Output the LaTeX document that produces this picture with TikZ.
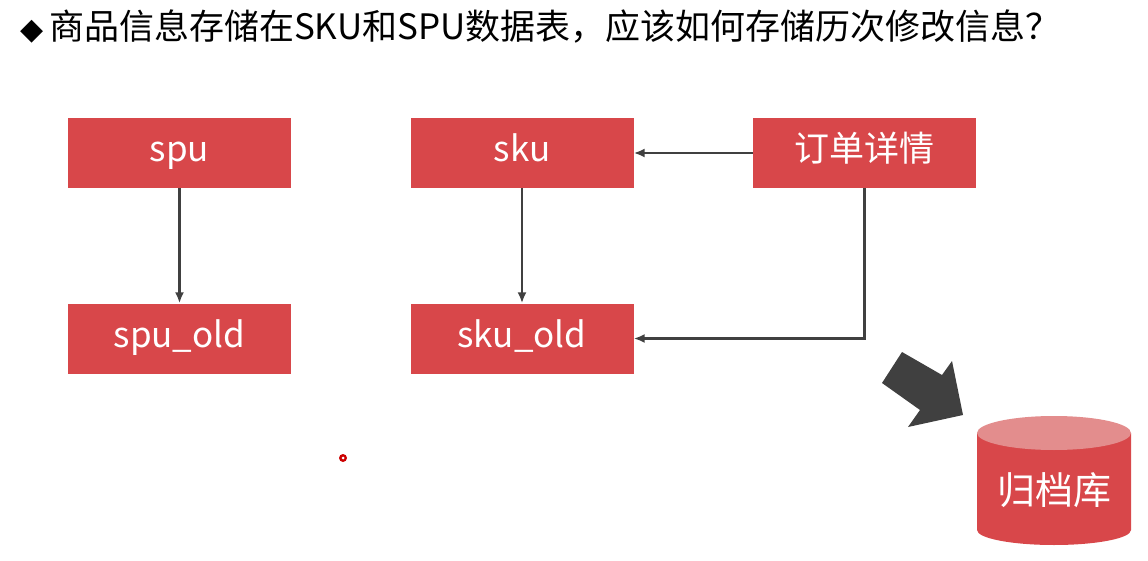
\documentclass[tikz,border=0pt]{standalone}
\usepackage{fontspec}
\setmainfont{Noto Sans CJK SC}
\newfontfamily\dejavu{DejaVu Sans}
\definecolor{boxred}{HTML}{D8474A}
\definecolor{topred}{HTML}{E38D8D}
\definecolor{line}{HTML}{404040}
\begin{document}
\begin{tikzpicture}[x=1pt,y=-1pt,
  box/.style={fill=boxred,text=white,minimum width=223pt,minimum height=70pt,inner sep=0pt,text height=25pt,text depth=7pt,font=\fontsize{35}{35}\selectfont},
  conn/.style={draw=line,line width=2.2pt,-{Latex[length=11pt,width=9pt]}}]
\usetikzlibrary{arrows.meta}
\useasboundingbox (0,0) rectangle (1148,561);
\node[anchor=west,inner sep=0pt,font=\fontsize{35}{35}\selectfont] (title) at (20,27) {{\dejavu\fontsize{30}{30}\selectfont ◆}\,商品信息存储在SKU和SPU数据表，应该如何存储历次修改信息？};
\node[box] (spu) at (179.5,153) {spu};
\node[box] (sku) at (522,153) {sku};
\node[box] (order) at (864.5,153) {订单详情};
\node[box] (spuold) at (179.5,338.5) {spu\_old};
\node[box] (skuold) at (522,338.5) {sku\_old};
\draw[conn] (spu) -- (spuold);
\draw[conn] (sku) -- (skuold);
\draw[conn] (order) -- (sku);
\coordinate (bend) at (864.5,338.5);
\draw[conn] (order.south) -- (bend) -- (skuold.east);
% fat arrow
\fill[line] (902,352) -- (942,375) -- (952,361) -- (963,415) -- (908,427) -- (920,410) -- (882,383) -- cycle;
% cylinder
\fill[boxred] (977,433) -- (977,530) arc[start angle=180,end angle=360,x radius=77pt,y radius=15pt] -- (1131,433) -- cycle;
\fill[topred] (1054,433) ellipse[x radius=77pt,y radius=17pt];
\node[text=white,font=\fontsize{38}{38}\selectfont] (archive) at (1054,490) {归档库};
\fill[red!80!black] (343,458) circle (4pt);
\fill[white] (343,458) circle (1.5pt);
\end{tikzpicture}
\end{document}
